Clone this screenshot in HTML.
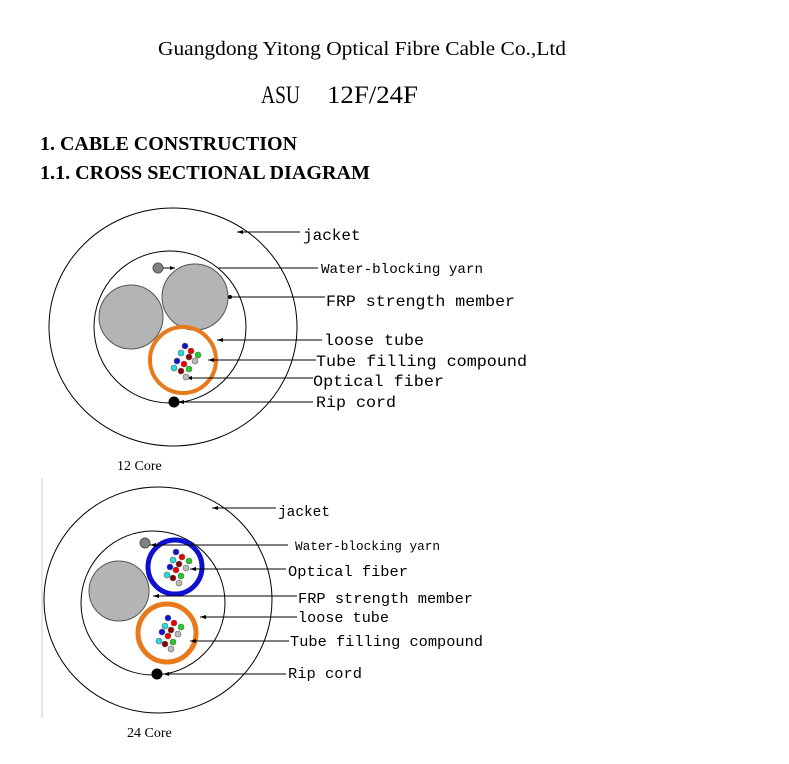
<!DOCTYPE html>
<html><head><meta charset="utf-8"><style>body{margin:0;background:#fff}svg{display:block}</style></head><body>
<svg width="789" height="764" viewBox="0 0 789 764" xmlns="http://www.w3.org/2000/svg">
<rect width="789" height="764" fill="#fff"/>
<g font-family="Liberation Serif, serif" fill="#000">
<text x="158" y="55" font-size="20" textLength="408" lengthAdjust="spacingAndGlyphs">Guangdong Yitong Optical Fibre Cable Co.,Ltd</text>
<text x="261" y="103" font-size="25" textLength="39" lengthAdjust="spacingAndGlyphs">ASU</text>
<text x="327" y="103" font-size="25" textLength="91" lengthAdjust="spacingAndGlyphs">12F/24F</text>
<text x="40" y="150" font-size="20" font-weight="bold" textLength="257" lengthAdjust="spacingAndGlyphs">1. CABLE CONSTRUCTION</text>
<text x="40" y="179" font-size="20" font-weight="bold" textLength="330" lengthAdjust="spacingAndGlyphs">1.1. CROSS SECTIONAL DIAGRAM</text>
<text x="117" y="470" font-size="14">12 Core</text>
<text x="127" y="737" font-size="14">24 Core</text>
</g>
<!-- Diagram 1 -->
<g stroke="#000" stroke-width="1" fill="none">
<ellipse cx="173" cy="327" rx="124" ry="119"/>
<circle cx="170" cy="327" r="76"/>
<circle cx="131" cy="317" r="32" fill="#b4b4b4" stroke="#555"/>
<circle cx="195" cy="297" r="33" fill="#b4b4b4" stroke="#555"/>
<circle cx="183" cy="360" r="33" stroke="#e87a1e" stroke-width="4"/>
<circle cx="158" cy="268" r="5" fill="#808080" stroke="#555"/>
<circle cx="174" cy="402" r="5" fill="#000"/>
<path d="M237 232 H300 M163 268 H175 M218 268 H318 M230 297 H325 M217 340 H322 M208 360 H316 M186 378 H313 M178 402 H313"/>
</g>
<g fill="#000"><path d="M237 232 l6 -2 v4z M175 268 l-5 -2 v4z M217 340 l6 -2 v4z M208 360 l6 -2 v4z M186 378 l6 -2 v4z M178 402 l6 -2 v4z"/><circle cx="230" cy="297" r="2"/></g>
<g stroke="#666" stroke-width="0.6">
<circle cx="185" cy="346" r="3" fill="#1010d0"/><circle cx="181" cy="353" r="3" fill="#2dd"/><circle cx="191" cy="351" r="3" fill="#e00"/><circle cx="198" cy="355" r="3" fill="#2c2"/>
<circle cx="189" cy="357" r="3" fill="#800"/><circle cx="195" cy="361" r="3" fill="#bbb"/><circle cx="177" cy="361" r="3" fill="#1010d0"/><circle cx="184" cy="364" r="3" fill="#e00"/>
<circle cx="174" cy="368" r="3" fill="#2dd"/><circle cx="181" cy="371" r="3" fill="#800"/><circle cx="189" cy="369" r="3" fill="#2c2"/><circle cx="186" cy="377" r="3" fill="#bbb"/>
</g>
<g font-family="Liberation Mono, monospace" fill="#000">
<text x="303" y="240" font-size="16">jacket</text>
<text x="321" y="273" font-size="14" textLength="162" lengthAdjust="spacingAndGlyphs">Water-blocking yarn</text>
<text x="326" y="306" font-size="16" textLength="189" lengthAdjust="spacingAndGlyphs">FRP strength member</text>
<text x="324" y="345" font-size="16" textLength="100" lengthAdjust="spacingAndGlyphs">loose tube</text>
<text x="316" y="366" font-size="16" textLength="211" lengthAdjust="spacingAndGlyphs">Tube filling compound</text>
<text x="313" y="386" font-size="16" textLength="131" lengthAdjust="spacingAndGlyphs">Optical fiber</text>
<text x="316" y="407" font-size="16" textLength="80" lengthAdjust="spacingAndGlyphs">Rip cord</text>
</g>
<!-- Diagram 2 -->
<line x1="42" y1="478" x2="42" y2="718" stroke="#ccc"/>
<g stroke="#000" stroke-width="1" fill="none">
<ellipse cx="158" cy="600" rx="114" ry="113"/>
<circle cx="153" cy="603" r="72"/>
<circle cx="119" cy="591" r="30" fill="#b4b4b4" stroke="#555"/>
<circle cx="175" cy="567" r="27" stroke="#1010d0" stroke-width="5"/>
<circle cx="167" cy="633" r="29" stroke="#e87a1e" stroke-width="5"/>
<circle cx="145" cy="543" r="5" fill="#808080" stroke="#555"/>
<circle cx="157" cy="674" r="5" fill="#000"/>
<path d="M212 508 H276 M150 545 H288 M190 569 H286 M153 596 H297 M200 617 H297 M190 641 H289 M163 674 H286"/>
</g>
<g fill="#000"><path d="M212 508 l6 -2 v4z M150 545 l6 -2 v4z M190 569 l6 -2 v4z M153 596 l6 -2 v4z M200 617 l6 -2 v4z M190 641 l6 -2 v4z M163 674 l6 -2 v4z"/></g>
<g stroke="#666" stroke-width="0.6">
<circle cx="176" cy="552" r="3" fill="#1010d0"/><circle cx="173" cy="560" r="3" fill="#2dd"/><circle cx="182" cy="557" r="3" fill="#e00"/><circle cx="189" cy="561" r="3" fill="#2c2"/>
<circle cx="179" cy="564" r="3" fill="#800"/><circle cx="186" cy="568" r="3" fill="#bbb"/><circle cx="170" cy="567" r="3" fill="#1010d0"/><circle cx="176" cy="570" r="3" fill="#e00"/>
<circle cx="167" cy="575" r="3" fill="#2dd"/><circle cx="173" cy="578" r="3" fill="#800"/><circle cx="181" cy="576" r="3" fill="#2c2"/><circle cx="179" cy="583" r="3" fill="#bbb"/>
<circle cx="168" cy="618" r="3" fill="#1010d0"/><circle cx="165" cy="626" r="3" fill="#2dd"/><circle cx="174" cy="623" r="3" fill="#e00"/><circle cx="181" cy="627" r="3" fill="#2c2"/>
<circle cx="171" cy="630" r="3" fill="#800"/><circle cx="178" cy="634" r="3" fill="#bbb"/><circle cx="162" cy="632" r="3" fill="#1010d0"/><circle cx="168" cy="636" r="3" fill="#e00"/>
<circle cx="159" cy="641" r="3" fill="#2dd"/><circle cx="165" cy="644" r="3" fill="#800"/><circle cx="173" cy="642" r="3" fill="#2c2"/><circle cx="171" cy="649" r="3" fill="#bbb"/>
</g>
<g font-family="Liberation Mono, monospace" fill="#000">
<text x="278" y="516" font-size="15" textLength="52" lengthAdjust="spacingAndGlyphs">jacket</text>
<text x="295" y="550" font-size="13" textLength="145" lengthAdjust="spacingAndGlyphs">Water-blocking yarn</text>
<text x="288" y="576" font-size="15" textLength="120" lengthAdjust="spacingAndGlyphs">Optical fiber</text>
<text x="298" y="603" font-size="15" textLength="175" lengthAdjust="spacingAndGlyphs">FRP strength member</text>
<text x="298" y="622" font-size="15" textLength="91" lengthAdjust="spacingAndGlyphs">loose tube</text>
<text x="290" y="646" font-size="15" textLength="193" lengthAdjust="spacingAndGlyphs">Tube filling compound</text>
<text x="288" y="678" font-size="15" textLength="74" lengthAdjust="spacingAndGlyphs">Rip cord</text>
</g>
</svg>
</body></html>
